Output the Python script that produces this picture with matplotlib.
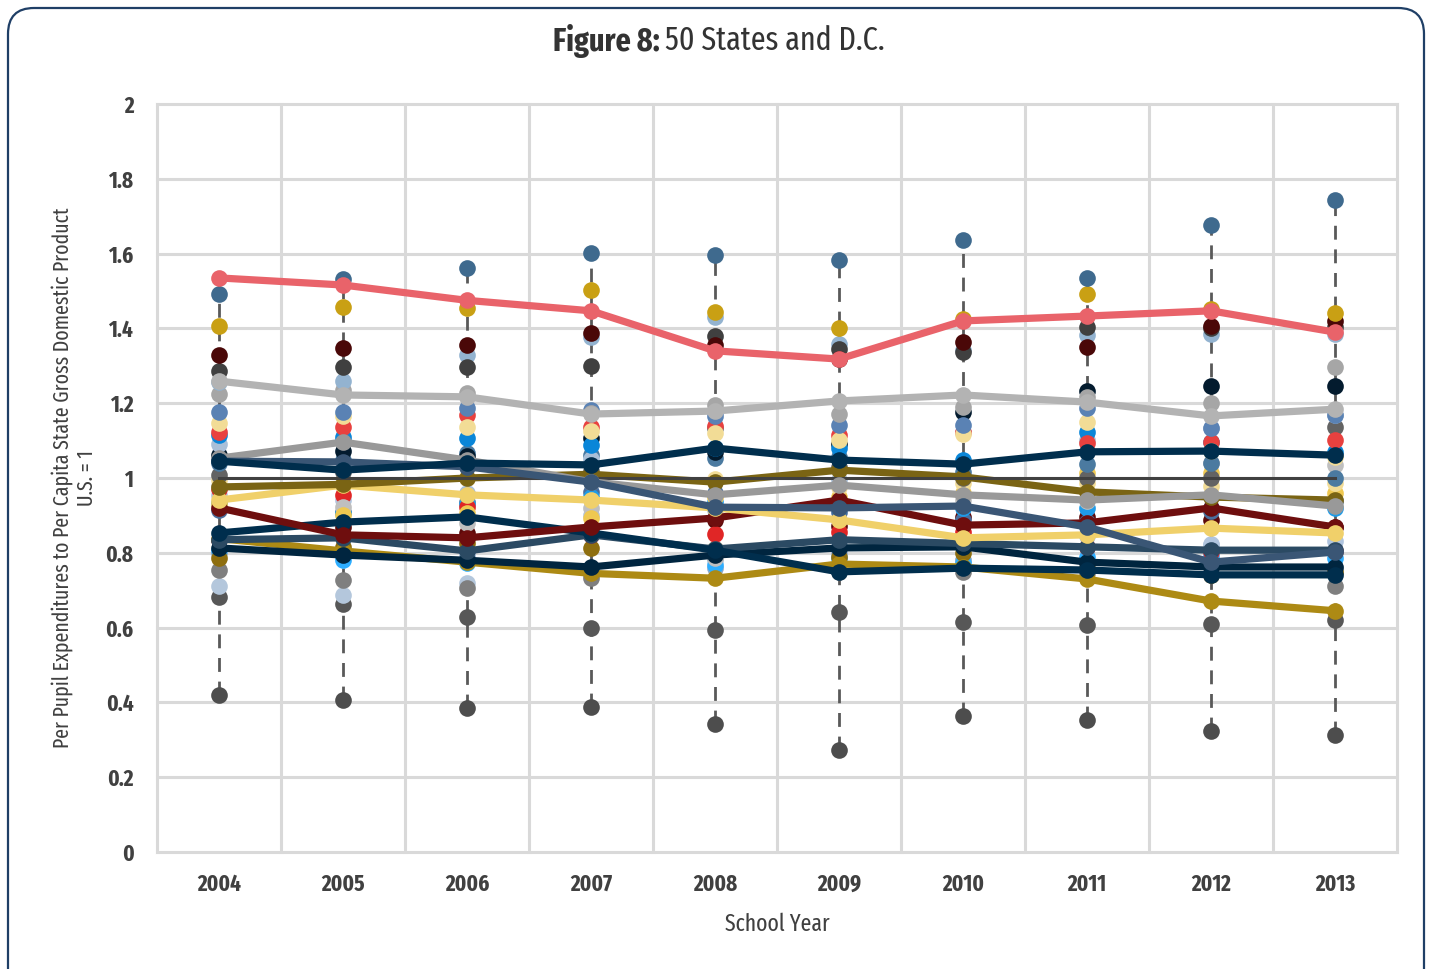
import matplotlib

matplotlib.use("Agg")
import matplotlib.pyplot as plt
import numpy as np
from matplotlib.patches import FancyBboxPatch

plt.rcParams["font.family"] = ["Fira Sans Extra Condensed", "Roboto Condensed", "DejaVu Sans"]

YEARS = ["2004", "2005", "2006", "2007", "2008", "2009", "2010", "2011", "2012", "2013"]

# series drawn with connecting lines
salmon_line = [1.535, 1.516, 1.475, 1.447, 1.34, 1.318, 1.42, 1.433, 1.447, 1.39]
lightgray_line = [1.259, 1.222, 1.217, 1.171, 1.179, 1.206, 1.222, 1.203, 1.166, 1.184]
navy_upper_line = [1.045, 1.021, 1.04, 1.035, 1.08, 1.048, 1.037, 1.07, 1.072, 1.061]
steel_line = [1.045, 1.043, 1.03, 0.989, 0.922, 0.92, 0.925, 0.869, 0.775, 0.802]
gray_line = [1.053, 1.096, 1.048, 0.99, 0.955, 0.981, 0.955, 0.941, 0.955, 0.925]
us_line = [1.0, 1.0, 1.0, 1.0, 1.0, 1.0, 1.0, 1.0, 1.0, 1.0]
olive_line = [0.976, 0.983, 1.0, 1.01, 0.989, 1.021, 1.003, 0.963, 0.949, 0.941]
yellow_line = [0.941, 0.981, 0.955, 0.941, 0.92, 0.888, 0.84, 0.848, 0.866, 0.853]
darkred_line = [0.92, 0.848, 0.84, 0.869, 0.893, 0.941, 0.874, 0.88, 0.92, 0.869]
navy_mid_line = [0.853, 0.882, 0.896, 0.853, 0.807, 0.749, 0.759, 0.754, 0.741, 0.741]
slate_line = [0.835, 0.84, 0.805, 0.848, 0.81, 0.835, 0.825, 0.816, 0.807, 0.807]
navy_low_line = [0.813, 0.794, 0.78, 0.762, 0.794, 0.813, 0.816, 0.775, 0.762, 0.762]
gold_line = [0.838, 0.805, 0.775, 0.745, 0.732, 0.77, 0.762, 0.73, 0.671, 0.645]

# series shown only as markers
dc_top = [1.492, 1.533, 1.561, 1.602, 1.596, 1.583, 1.637, 1.535, 1.676, 1.743]
gold_dot = [1.406, 1.457, 1.455, 1.503, 1.444, 1.401, 1.425, 1.492, 1.452, 1.441]
maroon_hi = [1.329, 1.348, 1.356, 1.388, 1.356, 1.318, 1.363, 1.35, 1.406, 1.42]
darkgray_hi = [1.286, 1.297, 1.297, 1.30, 1.38, 1.345, 1.337, 1.404, 1.40, 1.404]
lightsteel_hi = [1.257, 1.259, 1.329, 1.377, 1.43, 1.358, 1.342, 1.382, 1.385, 1.385]
medgray_dot = [1.225, 1.235, 1.227, 1.174, 1.195, 1.17, 1.19, 1.217, 1.2, 1.297]
midblue_hi = [1.176, 1.176, 1.187, 1.182, 1.165, 1.142, 1.142, 1.187, 1.134, 1.168]
paleyellow_hi = [1.147, 1.166, 1.136, 1.126, 1.12, 1.102, 1.118, 1.15, 1.072, 1.056]
red_hi = [1.123, 1.136, 1.168, 1.136, 1.14, 1.115, 1.123, 1.094, 1.096, 1.102]
brightblue_dot = [1.115, 1.11, 1.107, 1.088, 1.08, 1.08, 1.048, 1.123, 1.096, 1.07]
bluegray_dot = [1.091, 1.102, 0.96, 1.05, 1.176, 0.995, 1.123, 1.102, 1.134, 1.168]
navyblack_dot = [1.062, 1.072, 1.06, 1.107, 1.07, 1.09, 1.176, 1.233, 1.246, 1.246]
steel_dot = [1.04, 1.048, 1.067, 1.062, 1.053, 1.056, 1.016, 1.037, 1.04, 1.0]
darkgray_mid = [1.008, 1.016, 1.043, 1.02, 1.133, 1.03, 1.0, 1.0, 1.0, 1.136]
paleyellow_mid = [0.995, 0.987, 1.0, 0.997, 0.997, 0.976, 0.987, 0.987, 0.979, 0.987]
yellow_dot = [0.93, 0.9, 0.906, 0.893, 0.95, 0.949, 0.96, 1.013, 1.013, 0.96]
silver_dot = [0.979, 0.922, 0.88, 0.92, 0.786, 0.933, 0.941, 0.939, 1.04, 1.035]
red_mid = [0.97, 0.955, 0.922, 0.848, 0.85, 0.856, 0.856, 0.816, 0.802, 0.805]
lightslate_dot = [0.955, 0.94, 0.794, 0.90, 0.914, 0.821, 0.834, 0.845, 0.824, 0.832]
brightblue_lo = [0.933, 0.906, 0.93, 0.95, 0.936, 0.92, 0.92, 0.92, 0.92, 0.92]
midblue_dot = [0.914, 0.91, 0.936, 0.963, 0.96, 0.909, 0.888, 0.882, 0.912, 0.939]
maroon_lo = [0.834, 0.869, 0.853, 0.866, 0.888, 0.872, 0.896, 0.896, 0.888, 0.869]
darkgold_dot = [0.786, 0.816, 0.826, 0.813, 0.81, 0.79, 0.8, 0.76, 0.74, 0.75]
skyblue_dot = [0.807, 0.781, 0.773, 0.751, 0.767, 0.786, 0.773, 0.789, 0.791, 0.786]
lightsteel_lo = [0.80, 0.79, 0.794, 0.76, 0.76, 0.80, 0.78, 0.767, 0.759, 0.749]
gray_dot = [0.754, 0.727, 0.706, 0.733, 0.79, 0.75, 0.75, 0.745, 0.741, 0.711]
lightslate_lo = [0.711, 0.687, 0.719, 0.74, 0.78, 0.77, 0.78, 0.77, 0.82, 0.76]
darkgray_lo = [0.682, 0.663, 0.628, 0.599, 0.594, 0.642, 0.615, 0.607, 0.61, 0.62]
min_dot = [0.42, 0.406, 0.385, 0.388, 0.342, 0.273, 0.364, 0.353, 0.324, 0.313]

dot_series = [
    (min_dot, "#4D4D4D"), (darkgray_lo, "#575757"), (lightslate_lo, "#B4C7DC"),
    (gray_dot, "#7F7F7F"), (lightsteel_lo, "#8FA9C8"), (skyblue_dot, "#2EAEFF"),
    (darkgold_dot, "#8E6E0F"), (maroon_lo, "#5C0A0A"), (midblue_dot, "#4A6E9C"),
    (brightblue_lo, "#1E9BE8"), (lightslate_dot, "#B0C4DE"), (red_mid, "#E02626"),
    (silver_dot, "#BFBFBF"), (yellow_dot, "#EFC850"), (paleyellow_mid, "#F2DC96"),
    (darkgray_mid, "#636363"), (steel_dot, "#4B7AA0"), (navyblack_dot, "#031B2E"),
    (bluegray_dot, "#A9BFD8"), (brightblue_dot, "#0A86D8"), (red_hi, "#E8413F"),
    (paleyellow_hi, "#F2DC96"), (midblue_hi, "#5A82B4"), (medgray_dot, "#A6A6A6"),
    (lightsteel_hi, "#93B3D0"), (darkgray_hi, "#404040"), (maroon_hi, "#4A0808"),
    (gold_dot, "#C9A014"), (dc_top, "#3F6A8E"),
]

line_series = [
    (gold_line, "#AD8A14", 5.2), (navy_low_line, "#00253F", 5.2),
    (slate_line, "#2B4A63", 5.2), (navy_mid_line, "#002E4D", 5.2),
    (darkred_line, "#6E0E0E", 5.2), (yellow_line, "#F0D06A", 5.2),
    (olive_line, "#7A6414", 5.2), (us_line, "#404040", 2.2),
    (gray_line, "#999999", 5.2), (steel_line, "#3A5675", 5.2),
    (navy_upper_line, "#002E4D", 5.2), (lightgray_line, "#B3B3B3", 5.2),
    (salmon_line, "#E9636A", 5.2),
]

fig = plt.figure(figsize=(14.32, 9.69), dpi=100)
ax = fig.add_axes([157 / 1432, 117 / 969, 1240 / 1432, 748 / 969])
x = np.arange(len(YEARS))

# grid drawn by hand so the outer frame lines show fully
for yv in np.arange(0, 2.01, 0.2):
    ax.axhline(yv, color="#D9D9D9", lw=2.2, zorder=0, clip_on=False)
for xv in np.arange(-0.5, len(YEARS), 1.0):
    ax.axvline(xv, color="#D9D9D9", lw=2.2, zorder=0, clip_on=False)

# high-low dashed lines
all_vals = np.array([s for s, _ in dot_series] + [s for s, _, _ in line_series])
ax.vlines(x, all_vals.min(axis=0), all_vals.max(axis=0), colors="#595959",
          linestyles=(0, (5, 3.5)), lw=2.0, zorder=1)

for vals, col in dot_series:
    ax.plot(x, vals, "o", color=col, ms=12, mec="none", zorder=3)
for vals, col, lw in line_series:
    ms = 12 if lw > 3 else 0
    ax.plot(x, vals, "-o", color=col, lw=lw, ms=ms, mec="none", zorder=4)

ax.set_xlim(-0.5, len(YEARS) - 0.5)
ax.set_ylim(0, 2)
ax.set_xticks(x)
ax.set_xticklabels(YEARS)
ax.set_yticks(np.arange(0, 2.01, 0.2))
ax.set_yticklabels(["0", "0.2", "0.4", "0.6", "0.8", "1", "1.2", "1.4", "1.6", "1.8", "2"])
ax.tick_params(length=0, labelsize=16.5, colors="#404040")
ax.tick_params(axis="y", pad=17)
ax.tick_params(axis="x", pad=15)
for lab in ax.get_xticklabels() + ax.get_yticklabels():
    lab.set_fontweight("bold")
for sp in ax.spines.values():
    sp.set_visible(False)
ax.set_facecolor("none")

ax.set_xlabel("School Year", fontsize=17, color="#404040", labelpad=12)
ax.set_ylabel("Per Pupil Expenditures to Per Capita State Gross Domestic Product\nU.S. = 1",
              fontsize=15.5, color="#404040", linespacing=1.2)
ax.yaxis.set_label_coords(-0.048, 0.5)

# two-part title, centred as a whole
title_y = 1 - 41 / 969
t1 = fig.text(0, title_y, "Figure 8:", fontsize=23.5, fontweight="bold",
              color="#333333", ha="left", va="center")
t2 = fig.text(0, title_y, "50 States and D.C.", fontsize=23.5,
              color="#333333", ha="left", va="center")
renderer = fig.canvas.get_renderer()
w1 = t1.get_window_extent(renderer).width
w2 = t2.get_window_extent(renderer).width
gap = 5
start = 719 - (w1 + gap + w2) / 2
t1.set_x(start / 1432)
t2.set_x((start + w1 + gap) / 1432)

frame = FancyBboxPatch((0.08, -0.3), 14.16, 9.91, boxstyle="round,pad=0,rounding_size=0.26",
                       transform=fig.dpi_scale_trans, fc="none", ec="#1F3F66", lw=1.6,
                       zorder=-5)
fig.patches.append(frame)

fig.savefig("out.png", dpi=100)
